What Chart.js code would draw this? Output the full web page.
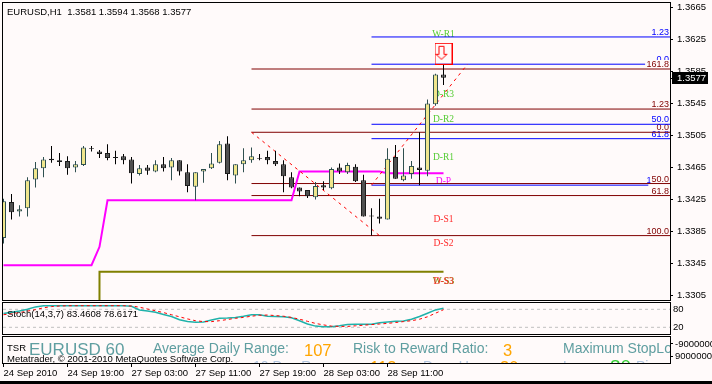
<!DOCTYPE html>
<html>
<head>
<meta charset="utf-8">
<title>EURUSD,H1</title>
<script src="https://cdn.jsdelivr.net/npm/chart.js@4.4.1/dist/chart.umd.min.js"></script>
<style>
  html, body { margin: 0; padding: 0; background: #fffafa; }
  #wrap { position: relative; width: 712px; height: 384px; overflow: hidden; background: #fffafa; }
  canvas { position: absolute; left: 0; }
  #main { top: 0; }
  #stoch { top: 301px; }
  #tsr { top: 335px; }
  #foot { position: absolute; left: 0; top: 381px; width: 712px; height: 3px; background: #000; }
</style>
</head>
<body>
<div id="wrap">
  <canvas id="main" width="712" height="301"></canvas>
  <canvas id="stoch" width="712" height="34"></canvas>
  <canvas id="tsr" width="712" height="46"></canvas>
  <div id="foot"></div>
</div>
<script>
// ---- data ----
const symbol = "EURUSD";
const period = "H1";

const timeLabels = ["24 Sep 2010", "24 Sep 19:00", "27 Sep 03:00", "27 Sep 11:00", "27 Sep 19:00", "28 Sep 03:00", "28 Sep 11:00"];
const timeTickBars = [0, 8, 16, 24, 32, 40, 48];

const opens = [1.3377, 1.3422, 1.3410, 1.3414, 1.3450, 1.3464, 1.3476, 1.3474, 1.3473, 1.3465,
  1.3468, 1.3489, 1.3485, 1.3483, 1.3478, 1.3479, 1.3475, 1.3457, 1.3465, 1.3460,
  1.3469, 1.3465, 1.3474, 1.3459, 1.3441, 1.3460, 1.3464, 1.3471, 1.3495, 1.3455,
  1.3469, 1.3474, 1.3477, 1.3478, 1.3473, 1.3469, 1.3453, 1.3440, 1.3437, 1.3428,
  1.3443, 1.3439, 1.3465, 1.3459, 1.3466, 1.3449, 1.3405, 1.3404, 1.3400, 1.3478,
  1.3449, 1.3457, 1.3465, 1.3461, 1.3544, 1.3581];
const highs = [1.3426, 1.3432, 1.3418, 1.3453, 1.3472, 1.3478, 1.3492, 1.3483, 1.3479, 1.3473,
  1.3492, 1.3492, 1.3487, 1.3494, 1.3486, 1.3482, 1.3478, 1.3468, 1.3468, 1.3474,
  1.3478, 1.3477, 1.3474, 1.3469, 1.3459, 1.3463, 1.3483, 1.3498, 1.3504, 1.3469,
  1.3489, 1.3490, 1.3482, 1.3486, 1.3486, 1.3474, 1.3459, 1.3440, 1.3437, 1.3447,
  1.3448, 1.3465, 1.3470, 1.3471, 1.3469, 1.3456, 1.3414, 1.3426, 1.3489, 1.3493,
  1.3489, 1.3473, 1.3509, 1.3550, 1.3582, 1.3594];
const lows = [1.3370, 1.3400, 1.3404, 1.3404, 1.3440, 1.3453, 1.3471, 1.3467, 1.3456, 1.3459,
  1.3467, 1.3485, 1.3477, 1.3474, 1.3469, 1.3469, 1.3445, 1.3455, 1.3456, 1.3459,
  1.3460, 1.3449, 1.3455, 1.3434, 1.3424, 1.3446, 1.3463, 1.3470, 1.3449, 1.3445,
  1.3459, 1.3471, 1.3474, 1.3469, 1.3467, 1.3434, 1.3439, 1.3429, 1.3427, 1.3425,
  1.3437, 1.3438, 1.3457, 1.3457, 1.3447, 1.3404, 1.3380, 1.3395, 1.3400, 1.3451,
  1.3448, 1.3451, 1.3443, 1.3454, 1.3542, 1.3568];
const closes = [1.3423, 1.3409, 1.3413, 1.3449, 1.3464, 1.3475, 1.3474, 1.3472, 1.3464, 1.3469,
  1.3490, 1.3488, 1.3482, 1.3477, 1.3477, 1.3474, 1.3458, 1.3464, 1.3461, 1.3469,
  1.3464, 1.3474, 1.3460, 1.3442, 1.3459, 1.3463, 1.3470, 1.3494, 1.3457, 1.3469,
  1.3474, 1.3479, 1.3476, 1.3474, 1.3469, 1.3454, 1.3440, 1.3435, 1.3429, 1.3442,
  1.3440, 1.3463, 1.3460, 1.3468, 1.3448, 1.3404, 1.3404, 1.3401, 1.3476, 1.3451,
  1.3455, 1.3467, 1.3462, 1.3545, 1.3581, 1.3577];

const priceTicks = [1.3305, 1.3345, 1.3385, 1.3425, 1.3465, 1.3505, 1.3545, 1.3585, 1.3625, 1.3665];

// indicator lines, as their vertices (bar, price)
const magentaBars = [0, 11, 12, 13, 36, 37, 47, 48, 55];
const magentaPrices = [1.3343, 1.3343, 1.3366, 1.3424, 1.3424, 1.3460, 1.3460, 1.3458, 1.3458];
const oliveBars = [11, 12, 55];
const olivePrices = [0, 1.3335, 1.3335];

// fibonacci objects
const fibRedFrom = 31;
const fibRedLevels = [1.3588, 1.3538, 1.3509, 1.3445, 1.3430, 1.3380];
const fibRedNames = ["161.8", "1.23", "0.0", "50.0", "61.8", "100.0"];
const fibRedBaseBars = [31, 47];
const fibRedBasePrices = [1.3509, 1.3380];

const fibBlueFrom = 46;
const fibBlueTo = [84, 80.2, 84, 84, 80.6];
const fibBlueLevels = [1.3628, 1.3594, 1.3519, 1.3501, 1.3443];
const fibBlueNames = ["1.23", "0.0", "50.0", "61.8", "100.0"];
const fibBlueBaseBars = [46, 58];
const fibBlueBasePrices = [1.3443, 1.3594];

// pivot tags at the last bar
const pivotBar = 55;
const pivotNames = ["W-R1", "D-R3", "D-R2", "D-R1", "D-P", "D-S1", "D-S2", "W-S3", "D-S3"];
const pivotPrices = [1.36285, 1.3553, 1.35214, 1.34744, 1.3445, 1.3397, 1.33664, 1.33202, 1.33202];

const arrowBar = 55;
const arrowPrice = 1.3607;

// stochastic window
const stochParams = "14,3,7";
const stochMain = [66, 70, 74, 80, 88, 92, 92, 92, 92, 92,
  92, 92, 92, 92, 92, 92, 90, 78, 74, 70,
  63, 56, 45, 39, 37, 38, 44, 50, 51, 53,
  57, 62, 62, 57, 56, 55, 52, 42, 31, 24,
  22, 22, 25, 29, 30, 30, 30, 35, 38, 40,
  41, 47, 56, 67, 78, 83.4608];
const stochSignal = [62, 65, 69, 74, 79, 85, 89, 91, 92, 92,
  92, 92, 92, 92, 92, 92, 91, 87, 81, 75,
  69, 62, 55, 48, 42, 39, 39, 42, 46, 50,
  53, 57, 60, 61, 59, 57, 53, 47, 40, 33,
  28, 24, 23, 23, 25, 27, 29, 31, 33, 36,
  39, 42, 47, 55, 67, 78.6171];
const stochLevels = [20, 80];

// TSR panel
const tsrAdr = 107;
const tsrRisk = 3;
const tsrRange10 = 113;
const tsrDaysUp = 30;
const tsrStop = 80;
const tsrAxisTicks = [-9000000, 9000000];

// ---- drawing ----
Chart.defaults.font.family = "'Liberation Sans', Arial, sans-serif";
Chart.defaults.font.size = 9.5;
Chart.defaults.color = "#000";

const xMin = -0.0625;
const xMax = 83.3125;
const BG = "#fffafa";

const isBull = (i) => closes[i] >= opens[i];
const bars = opens.map((_, i) => i);
const pts = (xs, ys) => xs.map((x, i) => ({ x: x, y: ys[i] }));

function lineSet(data, color, extra) {
  return Object.assign({
    type: "line", data: data, borderColor: color, borderWidth: 1,
    pointRadius: 0, fill: false, tension: 0, order: 4
  }, extra || {});
}

function barAxis(extra) {
  return Object.assign({
    type: "linear", min: xMin, max: xMax, offset: false, display: false,
    grid: { offset: false }
  }, extra || {});
}

function rightAxis(extra) {
  return Object.assign({
    type: "linear", position: "right",
    afterFit: (s) => { s.width = 42; s.paddingTop = 0; s.paddingBottom = 0; },
    grid: { drawOnChartArea: false, drawTicks: true, tickLength: 3, color: "#000" },
    border: { display: true, color: "#000" }
  }, extra);
}

const framePlugin = {
  id: "frame",
  afterDraw(chart) {
    const { ctx, chartArea: a } = chart;
    ctx.save();
    ctx.strokeStyle = "#000";
    ctx.lineWidth = 1;
    ctx.strokeRect(a.left - 0.5, a.top - 0.5, a.right - a.left + 1, a.bottom - a.top + 1);
    ctx.restore();
  }
};

// the down arrow marker above the last bar
function arrowSymbol() {
  const c = document.createElement("canvas");
  c.width = 18; c.height = 22;
  const g = c.getContext("2d");
  g.strokeStyle = "#ff0000";
  g.lineWidth = 1;
  g.strokeRect(0.5, 0.5, 17, 21);
  g.beginPath();
  g.moveTo(4.5, 3.5); g.lineTo(9.5, 3.5); g.lineTo(9.5, 11.5); g.lineTo(12.5, 11.5);
  g.lineTo(7, 16.5); g.lineTo(1.5, 11.5); g.lineTo(4.5, 11.5); g.closePath();
  g.stroke();
  return c;
}

function pivotColor(name) {
  if (name.startsWith("W-S")) return "#808000";
  if (name === "D-P") return "#ff00ff";
  if (name.indexOf("R") > 0) return "#55cc33";
  return "#ff2a2a";
}

const mainDecor = {
  id: "mainDecor",
  beforeDatasetsDraw(chart) {
    const { ctx, chartArea: a, scales: { x, y } } = chart;
    ctx.save();
    ctx.beginPath();
    ctx.rect(a.left, a.top, a.right - a.left, a.bottom - a.top);
    ctx.clip();

    // level captions on the right, blue set first, red set over it
    ctx.font = "9px 'Liberation Sans', Arial, sans-serif";
    ctx.textAlign = "right";
    ctx.textBaseline = "alphabetic";
    const caption = (txt, price, color) => {
      const py = Math.round(y.getPixelForValue(price)) - 2;
      const w = ctx.measureText(txt).width;
      ctx.fillStyle = BG;
      ctx.fillRect(a.right - 2 - w, py - 7, w + 2, 8);
      ctx.fillStyle = color;
      ctx.fillText(txt, a.right - 1, py);
    };
    fibBlueLevels.forEach((p, i) => caption(fibBlueNames[i], p, "#0000ff"));
    fibRedLevels.forEach((p, i) => caption(fibRedNames[i], p, "#800000"));

    // pivot tags
    ctx.font = "9.5px 'Liberation Serif', 'Times New Roman', serif";
    ctx.textAlign = "center";
    pivotNames.forEach((n, i) => {
      ctx.fillStyle = pivotColor(n);
      ctx.fillText(n, x.getPixelForValue(pivotBar), y.getPixelForValue(pivotPrices[i]));
    });
    ctx.restore();
  },
  afterDraw(chart) {
    const { ctx, chartArea: a, scales: { y } } = chart;
    const last = opens.length - 1;
    ctx.save();
    ctx.fillStyle = "#000";
    ctx.font = "9.5px 'Liberation Sans', Arial, sans-serif";
    ctx.textAlign = "left";
    ctx.textBaseline = "alphabetic";
    ctx.fillText(symbol + "," + period + "  " + opens[last].toFixed(4) + " " + highs[last].toFixed(4) + " " +
      lows[last].toFixed(4) + " " + closes[last].toFixed(4), 7, 15);

    // current price box
    const py = Math.round(y.getPixelForValue(closes[last]));
    ctx.fillRect(a.right + 2, py - 6, 36, 12);
    ctx.fillRect(a.right, py, 3, 1);
    ctx.fillStyle = "#fff";
    ctx.textBaseline = "middle";
    ctx.fillText(closes[last].toFixed(4), a.right + 7, py + 0.5);
    ctx.restore();
  }
};

const datasetsMain = [
  {
    type: "bar", label: "body",
    data: bars.map((i) => ({ x: i, y: [opens[i], closes[i]] })),
    backgroundColor: (c) => (isBull(c.dataIndex) ? "#f0e68c" : "#505050"),
    borderColor: (c) => (isBull(c.dataIndex) ? "#2f4f4f" : "#1c1c1c"),
    borderWidth: 1, borderSkipped: false, barThickness: 5, grouped: false,
    inflateAmount: 0, clip: 0, order: 0
  },
  {
    type: "bar", label: "wick",
    data: bars.map((i) => ({ x: i, y: [lows[i], highs[i]] })),
    backgroundColor: (c) => (isBull(c.dataIndex) ? "#2f4f4f" : "#000"),
    borderWidth: 0, barThickness: 1, grouped: false, inflateAmount: 0, clip: 0, order: 1
  },
  lineSet(pts(magentaBars, magentaPrices), "#ff00ff", { borderWidth: 2, order: 3 }),
  lineSet(pts(oliveBars, olivePrices), "#808000", { borderWidth: 2, order: 3 }),
  lineSet(pts(fibRedBaseBars, fibRedBasePrices), "#ff0000", { borderDash: [3, 4], order: 2 }),
  lineSet(pts(fibBlueBaseBars, fibBlueBasePrices), "#ff0000", { borderDash: [3, 4], order: 2 }),
  {
    type: "line", label: "arrow", data: [{ x: arrowBar, y: arrowPrice }],
    showLine: false, pointStyle: arrowSymbol(), pointRadius: 9, clip: false, order: -1
  }
];
fibRedLevels.forEach((p) => {
  datasetsMain.push(lineSet([{ x: fibRedFrom, y: p }, { x: 84, y: p }], "#800000"));
});
fibBlueLevels.forEach((p, i) => {
  datasetsMain.push(lineSet([{ x: fibBlueFrom, y: p }, { x: fibBlueTo[i], y: p }], "#0000ff"));
});

new Chart(document.getElementById("main"), {
  type: "line",
  data: { datasets: datasetsMain },
  options: {
    responsive: false, animation: false, devicePixelRatio: 1, events: [],
    layout: { autoPadding: false, padding: { left: 3, top: 3, right: 0, bottom: 1 } },
    plugins: { legend: { display: false }, tooltip: { enabled: false } },
    scales: {
      x: barAxis(),
      y: rightAxis({
        min: 1.32996, max: 1.36704,
        afterBuildTicks: (s) => { s.ticks = priceTicks.map((v) => ({ value: v })); },
        ticks: { callback: (v) => Number(v).toFixed(4), padding: 4, autoSkip: false }
      })
    }
  },
  plugins: [mainDecor, framePlugin]
});

// ---- stochastic ----
const stochDecor = {
  id: "stochDecor",
  afterDatasetsDraw(chart) {
    const { ctx } = chart;
    const last = stochMain.length - 1;
    ctx.save();
    ctx.fillStyle = "#000";
    ctx.font = "9.5px 'Liberation Sans', Arial, sans-serif";
    ctx.textBaseline = "alphabetic";
    ctx.fillText("Stoch(" + stochParams + ") " + stochMain[last].toFixed(4) + " " + stochSignal[last].toFixed(4), 7, 15.5);
    ctx.restore();
  }
};

const stochSets = [
  lineSet(stochMain.map((v, i) => ({ x: i, y: v })), "#20b2aa", { borderWidth: 1.5, order: 1 }),
  lineSet(stochSignal.map((v, i) => ({ x: i, y: v })), "#ff0000", { borderDash: [3, 3], order: 0 })
];
stochLevels.forEach((v) => {
  stochSets.push(lineSet([{ x: xMin, y: v }, { x: xMax, y: v }], "#c0c0c0", { borderDash: [3, 3], order: 5 }));
});

new Chart(document.getElementById("stoch"), {
  type: "line",
  data: { datasets: stochSets },
  options: {
    responsive: false, animation: false, devicePixelRatio: 1, events: [],
    layout: { autoPadding: false, padding: { left: 3, top: 2, right: 0, bottom: 1 } },
    plugins: { legend: { display: false }, tooltip: { enabled: false } },
    scales: {
      x: barAxis(),
      y: rightAxis({
        min: -2.3, max: 101,
        afterBuildTicks: (s) => { s.ticks = stochLevels.map((v) => ({ value: v })); },
        ticks: { callback: (v) => String(v), padding: 3, autoSkip: false },
        grid: { drawOnChartArea: false, drawTicks: false, color: "#000" }
      })
    }
  },
  plugins: [stochDecor, framePlugin]
});

// ---- TSR panel with the time axis ----
const tsrDecor = {
  id: "tsrDecor",
  afterDatasetsDraw(chart) {
    const { ctx, chartArea: a } = chart;
    ctx.save();
    ctx.beginPath();
    ctx.rect(a.left, a.top, a.right - a.left, a.bottom - a.top);
    ctx.clip();
    ctx.textAlign = "left";
    ctx.textBaseline = "alphabetic";
    const put = (txt, x, y, size, color) => {
      ctx.font = size + "px 'Liberation Sans', Arial, sans-serif";
      ctx.fillStyle = color;
      ctx.fillText(txt, x, y);
    };
    // second row, only its top shows above the frame
    put("10 Day Range:", 253, 36, 14, "#b0c4de");
    put(String(tsrRange10), 370, 37.5, 16.5, "#ffa500");
    put("Days Up:", 423, 36, 14, "#b0c4de");
    put(String(tsrDaysUp), 500, 37.5, 16.5, "#ffa500");
    put("Loss:", 563, 36, 14, "#b0c4de");
    put(String(tsrStop), 610, 38, 19, "#32cd32");
    put("Pips", 636, 36, 14, "#b0c4de");
    // first row
    put(symbol + " 60", 29, 20, 17, "#5f9ea0");
    put("Average Daily Range:", 153, 17.5, 14, "#5f9ea0");
    put(String(tsrAdr), 304, 20.5, 16.5, "#ffa500");
    put("Risk to Reward Ratio:", 353, 17.5, 14, "#5f9ea0");
    put(String(tsrRisk), 503, 20.5, 16.5, "#ffa500");
    put("Maximum StopLoss:", 563, 17.5, 14, "#5f9ea0");
    put("TSR", 7, 16, 9.5, "#000");
    put("Metatrader, \u00a9 2001-2010 MetaQuotes Software Corp.", 7, 27, 9.5, "#000");
    ctx.restore();
  }
};

new Chart(document.getElementById("tsr"), {
  type: "line",
  data: { datasets: [] },
  options: {
    responsive: false, animation: false, devicePixelRatio: 1, events: [],
    layout: { autoPadding: false, padding: { left: 3, top: 2, right: 0, bottom: 0 } },
    plugins: { legend: { display: false }, tooltip: { enabled: false } },
    scales: {
      x: barAxis({
        display: true, position: "bottom",
        afterBuildTicks: (s) => { s.ticks = timeTickBars.map((v) => ({ value: v })); },
        afterFit: (s) => { s.height = 18; s.paddingLeft = 0; s.paddingRight = 0; },
        ticks: {
          callback: (v, i) => timeLabels[i], align: "start", autoSkip: false,
          maxRotation: 0, minRotation: 0, padding: 1
        },
        grid: { offset: false, drawOnChartArea: false, drawTicks: true, tickLength: 4, color: "#000" },
        border: { display: false }
      }),
      y: rightAxis({
        reverse: true, min: -19400000, max: 19400000,
        afterBuildTicks: (s) => { s.ticks = tsrAxisTicks.map((v) => ({ value: v })); },
        ticks: { callback: (v) => String(v), padding: 2, autoSkip: false }
      })
    }
  },
  plugins: [tsrDecor, framePlugin]
});
</script>
</body>
</html>
